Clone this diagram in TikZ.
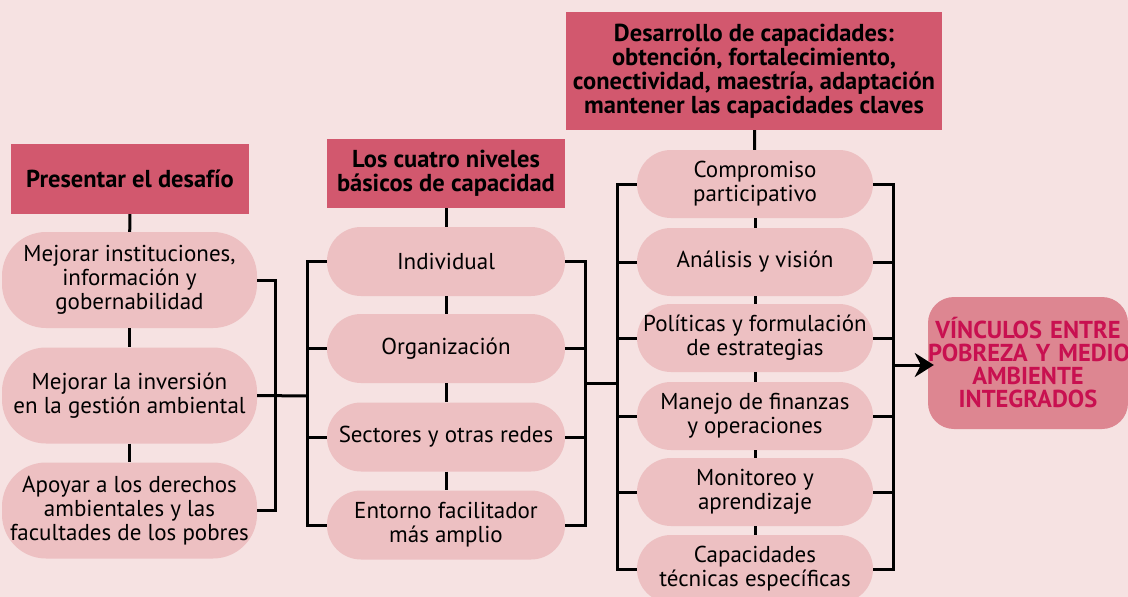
\documentclass[tikz,border=0pt]{standalone}
\usepackage{fontspec}
\setmainfont{PT Sans}
\usetikzlibrary{arrows.meta}

\definecolor{bgpink}{RGB}{246,226,226}
\definecolor{hdrred}{RGB}{210,88,110}
\definecolor{pillpink}{RGB}{237,192,194}
\definecolor{finalrose}{RGB}{221,134,145}
\definecolor{finaltext}{RGB}{200,16,80}

\tikzset{
	hdr/.style={fill=hdrred, inner sep=0pt, align=center, font=\fontsize{24.5}{24}\selectfont\bfseries},
	pill/.style={fill=pillpink, rounded corners=34pt, inner sep=0pt, align=center, font=\fontsize{23}{24}\selectfont},
	bigpill/.style={pill, rounded corners=44pt, minimum width=255pt, minimum height=96pt},
	final/.style={fill=finalrose, rounded corners=26pt, inner sep=0pt, text width=200pt, minimum height=132pt, align=center, text=finaltext, font=\fontsize{24.5}{23}\selectfont\bfseries},
	link/.style={line width=3pt}
}

\begin{document}
\begin{tikzpicture}[x=1pt, y=-1pt]
		\fill[bgpink] (0,0) rectangle (1128,597);
		\useasboundingbox (0,0) rectangle (1128,597);
		
		\node[hdr, minimum width=238pt, minimum height=70pt] (hd) at (130,179) {Presentar el desafío};
		\node[bigpill] (d1) at (129.5,280) {Mejorar instituciones,\\información y\\gobernabilidad};
		\node[bigpill] (d2) at (129.5,395.5) {Mejorar la inversión\\en la gestión ambiental};
		\node[bigpill] (d3) at (129.5,510.5) {Apoyar a los derechos\\ambientales y las\\facultades de los pobres};
		
		\node[hdr, minimum width=238pt, minimum height=69pt] (hn) at (446,173.5) {Los cuatro niveles\\básicos de capacidad};
		\node[pill, minimum width=238pt, minimum height=69pt] (n1) at (446,261.5) {Individual};
		\node[pill, minimum width=238pt, minimum height=69pt] (n2) at (446,348.5) {Organización};
		\node[pill, minimum width=238pt, minimum height=69pt] (n3) at (446,437) {Sectores y otras redes};
		\node[pill, minimum width=238pt, minimum height=69pt] (n4) at (446,525) {Entorno facilitador\\más amplio};
		
		\node[hdr, minimum width=376pt, minimum height=118pt] (hc) at (754,71) {Desarrollo de capacidades:\\obtención, fortalecimiento,\\conectividad, maestría, adaptación\\mantener las capacidades claves};
		\node[pill, minimum width=236pt, minimum height=68pt] (c1) at (755,184) {Compromiso\\participativo};
		\node[pill, minimum width=236pt, minimum height=68pt] (c2) at (755,262) {Análisis y visión};
		\node[pill, minimum width=236pt, minimum height=68pt] (c3) at (755,338) {Políticas y formulación\\de estrategias};
		\node[pill, minimum width=236pt, minimum height=68pt] (c4) at (755,416) {Manejo de finanzas\\y operaciones};
		\node[pill, minimum width=236pt, minimum height=68pt] (c5) at (755,492) {Monitoreo y\\aprendizaje};
		\node[pill, minimum width=236pt, minimum height=68pt] (c6) at (755,569) {Capacidades\\técnicas específicas};
		
		\node[final] (vi) at (1028,363) {VÍNCULOS ENTRE\\\mbox{POBREZA Y MEDIO}\\AMBIENTE\\INTEGRADOS};
		
		\coordinate (b1) at (275,396);
		\coordinate (b2) at (307,396);
		\coordinate (b3) at (585,383);
		\coordinate (b4) at (617,383);
		\coordinate (b5) at (893,365);
		
		\draw[link] (hd) -- (d1);
		\draw[link] (d1) -- (d2);
		\draw[link] (d2) -- (d3);
		\draw[link] (hn) -- (n1);
		\draw[link] (n1) -- (n2);
		\draw[link] (n2) -- (n3);
		\draw[link] (n3) -- (n4);
		\draw[link] (hc) -- (c1);
		\draw[link] (c1) -- (c2);
		\draw[link] (c2) -- (c3);
		\draw[link] (c3) -- (c4);
		\draw[link] (c4) -- (c5);
		\draw[link] (c5) -- (c6);
		
		\draw[link] (d1.east) -| (b1) |- (d3.east);
		\draw[link] (d2.east) -- (b2);
		\draw[link] (n1.west) -| (b2) |- (n4.west);
		\draw[link] (n2.west) -- (n2.west -| b2);
		\draw[link] (n3.west) -- (n3.west -| b2);
		\draw[link] (n1.east) -| (b3) |- (n4.east);
		\draw[link] (n2.east) -- (n2.east -| b3);
		\draw[link] (n3.east) -- (n3.east -| b3);
		\draw[link] (b3) -- (b4);
		\draw[link] (c1.west) -| (b4) |- (c6.west);
		\draw[link] (c2.west) -- (c2.west -| b4);
		\draw[link] (c3.west) -- (c3.west -| b4);
		\draw[link] (c4.west) -- (c4.west -| b4);
		\draw[link] (c5.west) -- (c5.west -| b4);
		\draw[link] (c1.east) -| (b5) |- (c6.east);
		\draw[link] (c2.east) -- (c2.east -| b5);
		\draw[link] (c3.east) -- (c3.east -| b5);
		\draw[link] (c4.east) -- (c4.east -| b5);
		\draw[link] (c5.east) -- (c5.east -| b5);
		\draw[link, -{Stealth[length=19pt, width=24pt, inset=6pt]}] (b5) -- ([xshift=6pt]vi.west |- b5);
		
		\end{tikzpicture}
\end{document}
